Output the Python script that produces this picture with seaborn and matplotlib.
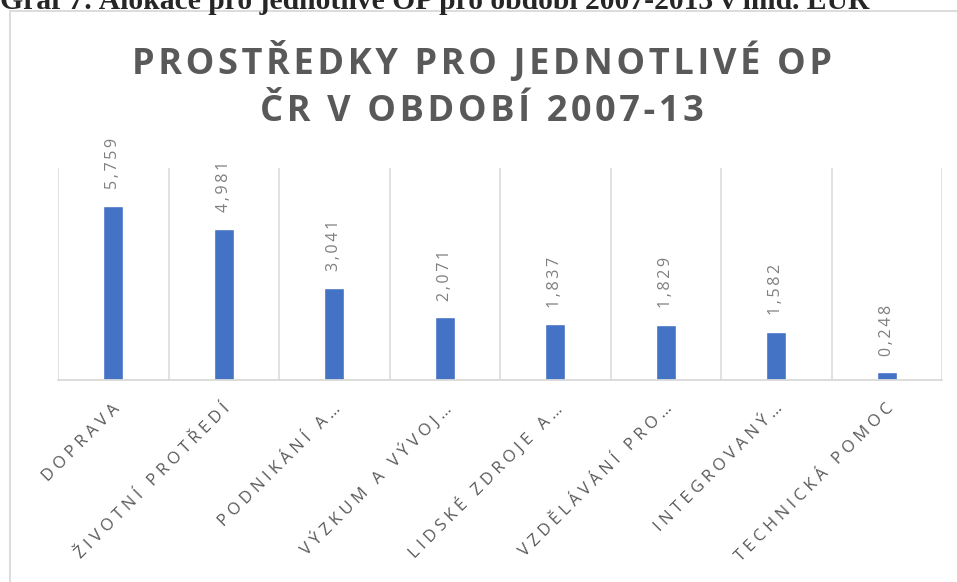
import numpy as np
import matplotlib.pyplot as plt
import seaborn as sns
from matplotlib.patches import Rectangle
from matplotlib.transforms import ScaledTranslation

# data (mld. EUR)
categories = [
    "DOPRAVA",
    "ŽIVOTNÍ PROTŘEDÍ",
    "PODNIKÁNÍ A…",
    "VÝZKUM A VÝVOJ…",
    "LIDSKÉ ZDROJE A…",
    "VZDĚLÁVÁNÍ PRO…",
    "INTEGROVANÝ…",
    "TECHNICKÁ POMOC",
]
values = [5.759, 4.981, 3.041, 2.071, 1.837, 1.829, 1.582, 0.248]
title_lines = ["PROSTŘEDKY PRO JEDNOTLIVÉ OP", "ČR V OBDOBÍ 2007-13"]
caption = "Graf 7: Alokace pro jednotlivé OP pro období 2007-2013 v mld. EUR"

BAR_COLOR = "#4472C4"
GRID_COLOR = "#d9d9d9"
TEXT_COLOR = "#595959"
LABEL_COLOR = "#7f7f7f"
FONTS = ["Open Sans", "DejaVu Sans"]
W, H = 957, 582


def spaced(text, gap="\u2009"):
    """Excel-like letter spacing."""
    return gap.join(text)


sns.set_style("white")
plt.rcParams["font.family"] = FONTS

fig = plt.figure(figsize=(W / 100, H / 100), dpi=100)
ax = fig.add_axes([58 / W, 1 - 380 / H, 884 / W, 212 / H])

sns.barplot(x=categories, y=values, color=BAR_COLOR, width=0.18,
            saturation=1, ax=ax)

ax.set_ylim(0, 7)
ax.set_xlim(-0.5, len(categories) - 0.5)
ax.set_yticks([])
ax.set_ylabel("")

# vertical gridlines between categories
ax.set_xticks(np.arange(-0.5, len(categories), 1), minor=True)
ax.grid(which="minor", axis="x", color=GRID_COLOR, linewidth=1.1)
ax.grid(which="major", visible=False)
ax.tick_params(which="both", axis="x", length=0)

for side in ["top", "left", "right"]:
    ax.spines[side].set_visible(False)
ax.spines["bottom"].set_color(GRID_COLOR)
ax.spines["bottom"].set_linewidth(1.3)

# value labels
labels = [spaced(f"{v:.3f}".replace(".", ",")) for v in values]
ax.bar_label(ax.containers[0], labels=labels, rotation=90, padding=12,
             color=LABEL_COLOR, fontsize=11.5)

# category labels
ax.set_xticks(range(len(categories)))
ax.set_xticklabels([spaced(c, "\u2009\u200a") for c in categories],
                   rotation=45, ha="right", va="center",
                   rotation_mode="anchor", fontsize=12, color=TEXT_COLOR)
ax.tick_params(axis="x", which="major", pad=19)
shift = ScaledTranslation(4 / 100, 0, fig.dpi_scale_trans)
for lab in ax.get_xticklabels():
    lab.set_transform(lab.get_transform() + shift)

# chart title
for text, base in zip(title_lines, [74, 121]):
    fig.text(482 / W, 1 - base / H, spaced(text, "\u200a"), ha="center",
             va="baseline", fontsize=26, fontweight="bold", color=TEXT_COLOR)

# chart frame, running off the right and bottom edge
fig.patches.append(Rectangle((10 / W, -0.1), 1.2, 1 - 11 / H + 0.1,
                             transform=fig.transFigure, fill=False,
                             edgecolor=GRID_COLOR, linewidth=1.3))

# document caption, cut by the top edge
fig.text(0, 1 - 9 / H, caption, ha="left", va="baseline",
         family="Liberation Serif", fontweight="bold", fontsize=21.3)

fig.savefig("out.png", dpi=100)
